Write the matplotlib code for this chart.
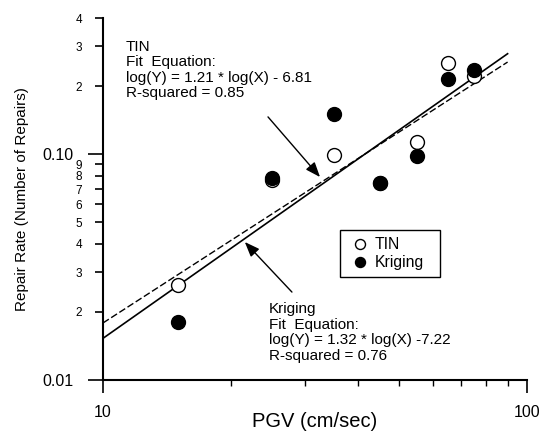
import numpy as np
import matplotlib
matplotlib.use("Agg")
import matplotlib.pyplot as plt
from matplotlib.ticker import FixedLocator, FixedFormatter, NullFormatter

plt.rcParams['font.family'] = ['Liberation Sans', 'DejaVu Sans']

# Data
tin_x = [15, 25, 35, 45, 55, 65, 75]
tin_y = [0.0263, 0.0765, 0.099, 0.0744, 0.113, 0.253, 0.222]
krig_x = [15, 25, 35, 45, 55, 65, 75]
krig_y = [0.0181, 0.0783, 0.150, 0.0744, 0.098, 0.215, 0.236]

# Fit equations (natural log) shown on the chart
tin_fit = [1.21, -6.81]
krig_fit = [1.32, -7.22]
fit_x_range = [10, 90]

y_major = [0.01, 0.1]
y_major_labels = ["0.01", "0.10"]
y_minor = [0.02, 0.03, 0.04, 0.05, 0.06, 0.07, 0.08, 0.09, 0.2, 0.3, 0.4]
y_minor_labels = ["2", "3", "4", "5", "6", "7", "8", "9", "2", "3", "4"]
x_major = [10, 100]
x_major_labels = ["10", "100"]
x_minor = [20, 30, 40, 50, 60, 70, 80, 90]

W, H = 545, 441
fig = plt.figure(figsize=(W / 100, H / 100), dpi=100)
ax = fig.add_axes([103 / W, 1 - 380 / H, (527 - 103) / W, (380 - 18) / H])
ax.set_xscale('log')
ax.set_yscale('log')
ax.set_xlim(10, 100)
ax.set_ylim(0.01, 0.4)

fx = np.array(fit_x_range, dtype=float)
ty = np.exp(tin_fit[0] * np.log(fx) + tin_fit[1])
ky = np.exp(krig_fit[0] * np.log(fx) + krig_fit[1])
ax.plot(fx, ty, color='black', lw=1.0, ls=(0, (5, 2)), zorder=2)
ax.plot(fx, ky, color='black', lw=1.2, zorder=2)

ax.plot(tin_x, tin_y, 'o', ms=10, mfc='white', mec='black', mew=1.0,
        label='TIN', zorder=3)
ax.plot(krig_x, krig_y, 'o', ms=10, mfc='black', mec='black', mew=1.0,
        label='Kriging', zorder=4)

for s in ['top', 'right']:
    ax.spines[s].set_visible(False)
for s in ['left', 'bottom']:
    ax.spines[s].set_linewidth(1.5)

ax.yaxis.set_major_locator(FixedLocator(y_major))
ax.yaxis.set_major_formatter(FixedFormatter(y_major_labels))
ax.yaxis.set_minor_locator(FixedLocator(y_minor))
ax.yaxis.set_minor_formatter(FixedFormatter(y_minor_labels))
ax.xaxis.set_major_locator(FixedLocator(x_major))
ax.xaxis.set_major_formatter(FixedFormatter(x_major_labels))
ax.xaxis.set_minor_locator(FixedLocator(x_minor))
ax.xaxis.set_minor_formatter(NullFormatter())

ax.tick_params(axis='y', which='major', length=11, width=1.2, labelsize=11.5, pad=10)
ax.tick_params(axis='y', which='minor', length=6, width=1.2, labelsize=8.5, pad=9)
ax.tick_params(axis='x', which='major', length=9, width=1.2, labelsize=11.5, pad=9)
ax.tick_params(axis='x', which='minor', length=4, width=1.0)

ax.set_xlabel('PGV (cm/sec)', fontsize=14.5)
ax.xaxis.label.set_va('baseline')
ax.xaxis.set_label_coords(0.5, -(427 - 380) / 362)
ax.set_ylabel('Repair Rate (Number of Repairs)', fontsize=11)
ax.yaxis.set_label_coords((29 - 103) / 424, 0.5)

def ftext(x, y, s, **kw):
    fig.text(x / W, 1 - y / H, s, fontsize=11, va='baseline', ha='left', **kw)

tin_lines = ["TIN", "Fit  Equation:", "log(Y) = 1.21 * log(X) - 6.81", "R-squared = 0.85"]
for i, s in enumerate(tin_lines):
    ftext(126, 51 + i * 15.4, s)
krig_lines = ["Kriging", "Fit  Equation:", "log(Y) = 1.32 * log(X) -7.22", "R-squared = 0.76"]
for i, s in enumerate(krig_lines):
    ftext(269, 313 + i * 15.6, s)

arrow = dict(arrowstyle='-|>,head_length=0.9,head_width=0.35', color='black', lw=1.0,
             shrinkA=0, shrinkB=0)
ax.annotate('', xy=(32.5, 0.0791), xytext=(24.5, 0.146), arrowprops=arrow)
ax.annotate('', xy=(21.6, 0.0408), xytext=(27.9, 0.0245), arrowprops=arrow)

leg = ax.legend(loc='upper left', bbox_to_anchor=(340 / W, 1 - 278 / H, 100 / W, 48 / H),
                bbox_transform=fig.transFigure, mode='expand', fontsize=11.3,
                frameon=True, fancybox=False, edgecolor='black', framealpha=1,
                borderaxespad=0, handlelength=1.65, handletextpad=0.13,
                borderpad=0.45, labelspacing=0.2, markerscale=0.72)
leg.get_frame().set_linewidth(1.0)

fig.savefig('out.png', dpi=100)
